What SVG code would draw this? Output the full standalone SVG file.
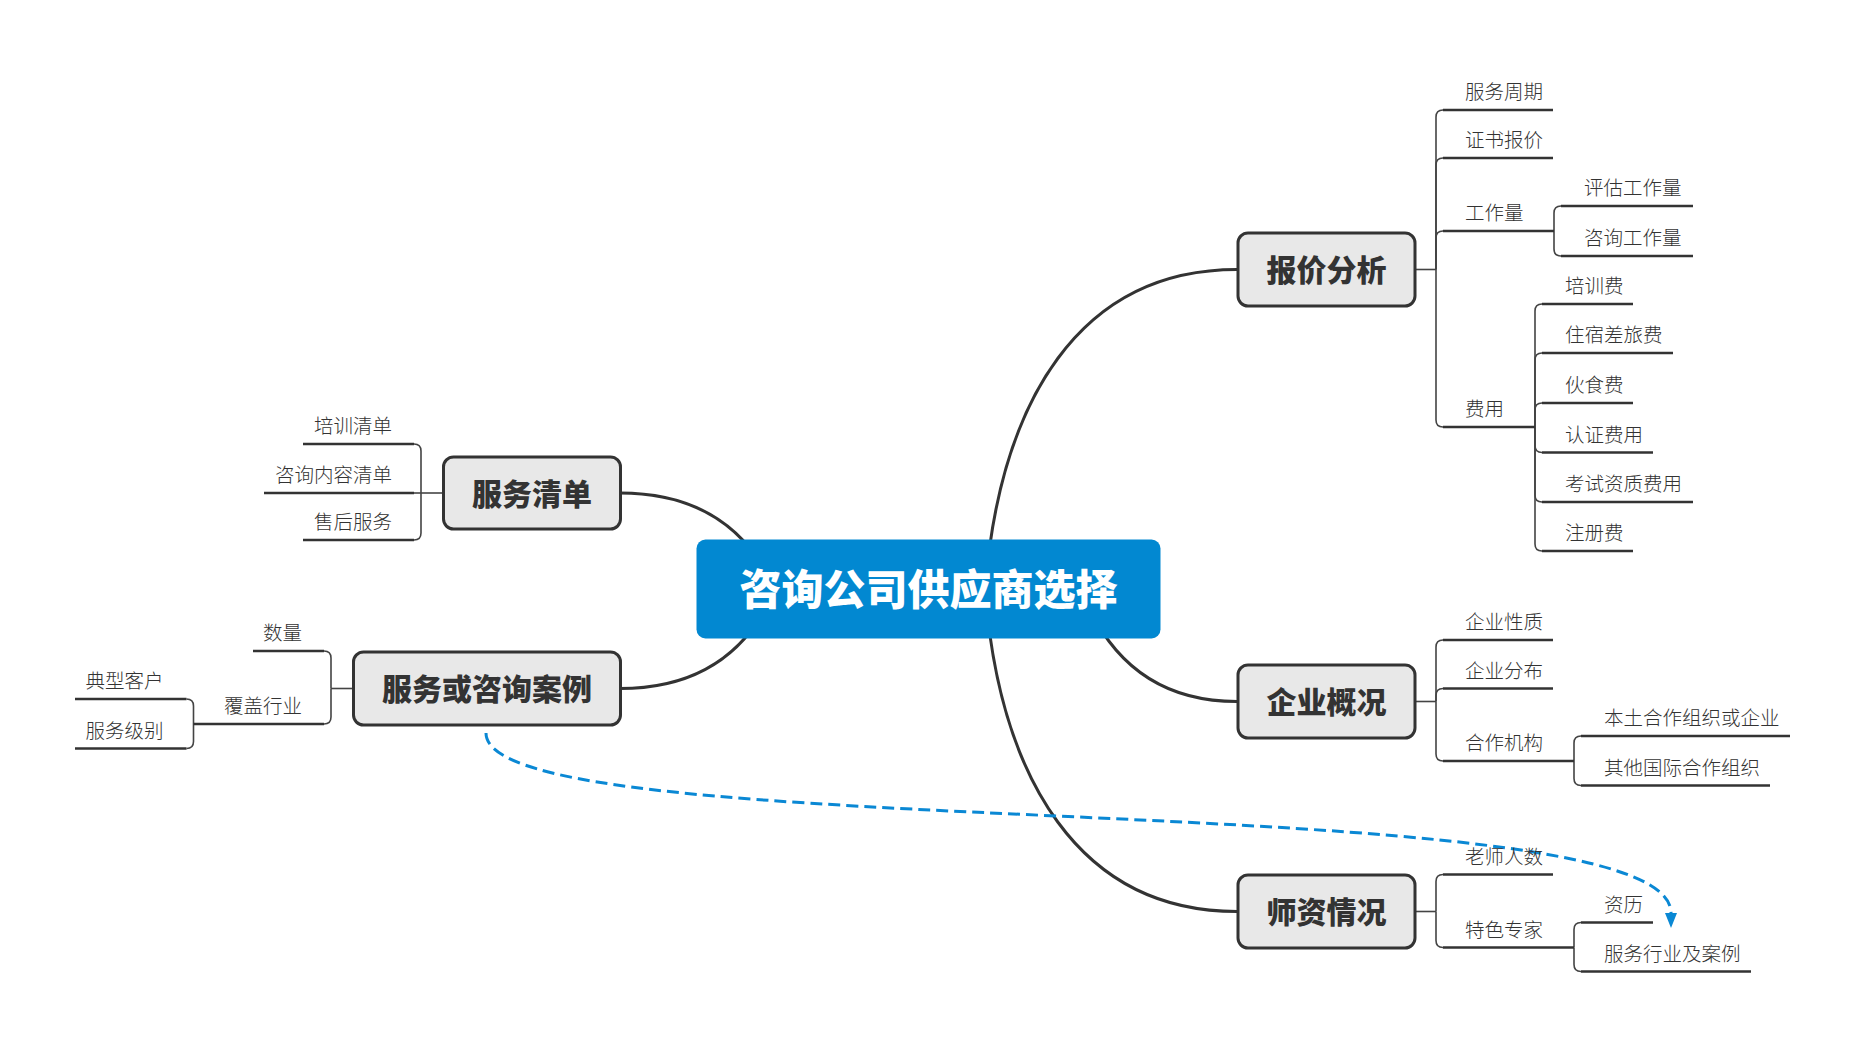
<svg xmlns="http://www.w3.org/2000/svg" width="1864" height="1047" viewBox="0 0 1864 1047">
<style>
.main{fill:none;stroke:#333;stroke-width:3}
.br{fill:none;stroke:#444;stroke-width:1.6}
.ul{fill:none;stroke:#333;stroke-width:2.6}
.box{fill:#e8e8e8;stroke:#333;stroke-width:3}
.t1{font-family:"Noto Sans CJK SC","Noto Sans",sans-serif;font-weight:900;font-size:30px;fill:#333;text-anchor:middle}
.t0{font-family:"Noto Sans CJK SC","Noto Sans",sans-serif;font-weight:900;font-size:42px;fill:#fff;text-anchor:middle}
.t2{font-family:"Noto Sans CJK SC","Noto Sans",sans-serif;font-weight:300;font-size:19.5px;fill:#333}
.e{text-anchor:end}
.rel{fill:none;stroke:#0a88d4;stroke-width:3;stroke-dasharray:12 6}
</style>
<defs>
<marker id="arr" markerUnits="userSpaceOnUse" markerWidth="16" markerHeight="14" refX="0" refY="6" orient="auto">
<path d="M0,0 L15,6 L0,12 z" fill="#0a88d4"/>
</marker>
</defs>
<rect width="1864" height="1047" fill="#fff"/>
<g id="connectors">
<path class="main" d="M985 590 C1000 400,1080 269.5,1237 269.5"/>
<path class="main" d="M985 590 C1000 780,1080 911.5,1237 911.5"/>
<path class="main" d="M1090 610 Q1135 701.5 1237 701.5"/>
<path class="main" d="M765 570 Q720 493 620 493"/>
<path class="main" d="M765 610 Q720 688.5 620 688.5"/>
<!-- 报价分析 -->
<path class="br" d="M1415 269.5 H1436"/>
<path class="br" d="M1436 269.5 V117 Q1436 110 1443 110"/>
<path class="br" d="M1436 269.5 V165 Q1436 158 1443 158"/>
<path class="br" d="M1436 269.5 V238 Q1436 231 1443 231"/>
<path class="br" d="M1436 269.5 V420 Q1436 427 1443 427"/>
<path class="br" d="M1554 231 V213 Q1554 206 1561 206"/>
<path class="br" d="M1554 231 V249 Q1554 256 1561 256"/>
<path class="br" d="M1535 427 V311 Q1535 304 1542 304"/>
<path class="br" d="M1535 427 V360 Q1535 353 1542 353"/>
<path class="br" d="M1535 427 V410 Q1535 403 1542 403"/>
<path class="br" d="M1535 427 V445.5 Q1535 452.5 1542 452.5"/>
<path class="br" d="M1535 427 V495 Q1535 502 1542 502"/>
<path class="br" d="M1535 427 V544 Q1535 551 1542 551"/>
<!-- 企业概况 -->
<path class="br" d="M1415 701.5 H1436"/>
<path class="br" d="M1436 701.5 V647 Q1436 640 1443 640"/>
<path class="br" d="M1436 701.5 V695.5 Q1436 688.5 1443 688.5"/>
<path class="br" d="M1436 701.5 V754 Q1436 761 1443 761"/>
<path class="br" d="M1574 761 V743 Q1574 736 1581 736"/>
<path class="br" d="M1574 761 V778.5 Q1574 785.5 1581 785.5"/>
<!-- 师资情况 -->
<path class="br" d="M1415 911.5 H1436"/>
<path class="br" d="M1436 911.5 V881.5 Q1436 874.5 1443 874.5"/>
<path class="br" d="M1436 911.5 V940.5 Q1436 947.5 1443 947.5"/>
<path class="br" d="M1574 947.5 V929.5 Q1574 922.5 1581 922.5"/>
<path class="br" d="M1574 947.5 V964.5 Q1574 971.5 1581 971.5"/>
<!-- 服务清单 -->
<path class="br" d="M443 493 H421"/>
<path class="br" d="M421 493 V451 Q421 444 414 444"/>
<path class="br" d="M421 493 H414"/>
<path class="br" d="M421 493 V533 Q421 540 414 540"/>
<!-- 服务或咨询案例 -->
<path class="br" d="M353 688.5 H331"/>
<path class="br" d="M331 688.5 V658 Q331 651 324 651"/>
<path class="br" d="M331 688.5 V717 Q331 724 324 724"/>
<path class="br" d="M193.5 724 V706 Q193.5 699 186.5 699"/>
<path class="br" d="M193.5 724 V741.5 Q193.5 748.5 186.5 748.5"/>
<!-- relationship -->
<path class="rel" d="M486 733 C486 850,1671 780,1671 913" marker-end="url(#arr)"/>
</g>
<g id="central">
<rect x="696.5" y="539.5" width="464" height="99" rx="9" fill="#0288d1"/>
<text class="t0" x="928.5" y="605">咨询公司供应商选择</text>
</g>
<g id="n-baojia">
<rect class="box" x="1238" y="233" width="177" height="73" rx="10"/>
<text class="t1" x="1326.5" y="281">报价分析</text>
</g>
<g id="n-qiye">
<rect class="box" x="1238" y="665" width="177" height="73" rx="10"/>
<text class="t1" x="1326.5" y="713">企业概况</text>
</g>
<g id="n-shizi">
<rect class="box" x="1238" y="875" width="177" height="73" rx="10"/>
<text class="t1" x="1326.5" y="923">师资情况</text>
</g>
<g id="n-qingdan">
<rect class="box" x="443.5" y="457" width="177" height="72" rx="10"/>
<text class="t1" x="532" y="504.5">服务清单</text>
</g>
<g id="n-anli">
<rect class="box" x="353.5" y="652" width="267" height="73" rx="10"/>
<text class="t1" x="487" y="700">服务或咨询案例</text>
</g>
<g id="sub-baojia">
<path class="ul" d="M1443 110 H1553"/><text class="t2" x="1465" y="99">服务周期</text>
<path class="ul" d="M1443 158 H1553"/><text class="t2" x="1465" y="147">证书报价</text>
<path class="ul" d="M1443 231 H1554"/><text class="t2" x="1465" y="220">工作量</text>
<path class="ul" d="M1561 206 H1693"/><text class="t2" x="1584" y="195">评估工作量</text>
<path class="ul" d="M1561 256 H1693"/><text class="t2" x="1584" y="245">咨询工作量</text>
<path class="ul" d="M1443 427 H1535"/><text class="t2" x="1465" y="416">费用</text>
<path class="ul" d="M1542 304 H1633"/><text class="t2" x="1565" y="293">培训费</text>
<path class="ul" d="M1542 353 H1673"/><text class="t2" x="1565" y="342">住宿差旅费</text>
<path class="ul" d="M1542 403 H1633"/><text class="t2" x="1565" y="392">伙食费</text>
<path class="ul" d="M1542 452.5 H1653"/><text class="t2" x="1565" y="441.5">认证费用</text>
<path class="ul" d="M1542 502 H1693"/><text class="t2" x="1565" y="491">考试资质费用</text>
<path class="ul" d="M1542 551 H1633"/><text class="t2" x="1565" y="540">注册费</text>
</g>
<g id="sub-qiye">
<path class="ul" d="M1443 640 H1553"/><text class="t2" x="1465" y="629">企业性质</text>
<path class="ul" d="M1443 688.5 H1553"/><text class="t2" x="1465" y="677.5">企业分布</text>
<path class="ul" d="M1443 761 H1574"/><text class="t2" x="1465" y="750">合作机构</text>
<path class="ul" d="M1581 736 H1790"/><text class="t2" x="1604" y="725">本土合作组织或企业</text>
<path class="ul" d="M1581 785.5 H1770"/><text class="t2" x="1604" y="774.5">其他国际合作组织</text>
</g>
<g id="sub-shizi">
<path class="ul" d="M1443 874.5 H1553"/><text class="t2" x="1465" y="863.5">老师人数</text>
<path class="ul" d="M1443 947.5 H1574"/><text class="t2" x="1465" y="936.5">特色专家</text>
<path class="ul" d="M1581 922.5 H1653"/><text class="t2" x="1604" y="911.5">资历</text>
<path class="ul" d="M1581 971.5 H1751"/><text class="t2" x="1604" y="960.5">服务行业及案例</text>
</g>
<g id="sub-qingdan">
<path class="ul" d="M414 444 H303"/><text class="t2 e" x="392" y="433">培训清单</text>
<path class="ul" d="M414 493 H264"/><text class="t2 e" x="392" y="482">咨询内容清单</text>
<path class="ul" d="M414 540 H303"/><text class="t2 e" x="392" y="529">售后服务</text>
</g>
<g id="sub-anli">
<path class="ul" d="M324 651 H253"/><text class="t2 e" x="302" y="640">数量</text>
<path class="ul" d="M324 724 H193.5"/><text class="t2 e" x="302" y="713">覆盖行业</text>
<path class="ul" d="M186.5 699 H75"/><text class="t2 e" x="163.5" y="688">典型客户</text>
<path class="ul" d="M186.5 748.5 H75"/><text class="t2 e" x="163.5" y="737.5">服务级别</text>
</g>
</svg>
